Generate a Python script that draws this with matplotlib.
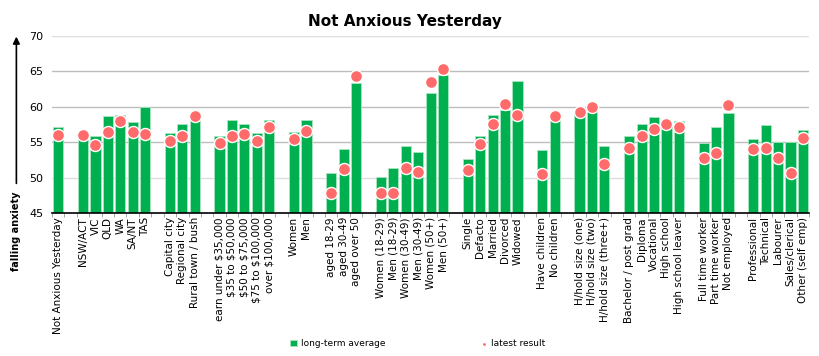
import numpy as np
import matplotlib.pyplot as plt

# blank entries are spacer slots between groups
categories = [
    "Not Anxious Yesterday", "",
    "NSW/ACT", "VIC", "QLD", "WA", "SA/NT", "TAS", "",
    "Capital city", "Regional city", "Rural town / bush", "",
    "earn under $35,000", "$35 to $50,000", "$50 to $75,000", "$75 to $100,000", "over $100,000", "",
    "Women", "Men", "",
    "aged 18-29", "aged 30-49", "aged over 50", "",
    "Women (18-29)", "Men (18-29)", "Women (30-49)", "Men (30-49)", "Women (50+)", "Men (50+)", "",
    "Single", "Defacto", "Married", "Divorced", "Widowed", "",
    "Have children", "No children", "",
    "H/hold size (one)", "H/hold size (two)", "H/hold size (three+)", "",
    "Bachelor / post grad", "Diploma", "Vocational", "High school", "High school leaver", "",
    "Full time worker", "Part time worker", "Not employed", "",
    "Professional", "Technical", "Labourer", "Sales/clerical", "Other (self emp)",
]
long_term = [
    57.2, None,
    55.9, 55.8, 58.7, 58.8, 57.8, 60.0, None,
    56.3, 57.6, 59.3, None,
    55.9, 58.1, 57.5, 56.3, 58.1, None,
    56.4, 58.1, None,
    50.6, 54.0, 63.3, None,
    50.1, 51.3, 54.4, 53.6, 61.9, 64.5, None,
    52.6, 55.9, 58.8, 59.5, 63.7, None,
    53.9, 58.5, None,
    59.1, 59.5, 54.4, None,
    55.8, 57.6, 58.5, 57.4, 58.0, None,
    54.9, 57.2, 59.1, None,
    55.5, 57.4, 55.0, 55.0, 56.7,
]
latest = [
    56.0, None,
    56.0, 54.6, 56.4, 58.0, 56.4, 56.1, None,
    55.2, 55.8, 58.7, None,
    54.9, 55.8, 56.2, 55.2, 57.1, None,
    55.5, 56.5, None,
    47.8, 51.2, 64.4, None,
    47.8, 47.8, 51.4, 50.8, 63.5, 65.3, None,
    51.0, 54.8, 57.6, 60.4, 58.8, None,
    50.5, 58.7, None,
    59.2, 60.0, 51.9, None,
    54.1, 55.9, 56.9, 57.6, 57.1, None,
    52.7, 53.5, 60.2, None,
    54.0, 54.2, 52.7, 50.6, 55.6,
]

x = np.arange(len(categories))
lt = np.array([np.nan if v is None else v for v in long_term])
lr = np.array([np.nan if v is None else v for v in latest])

fig = plt.figure(figsize=(8.19, 3.56), dpi=100)
ax = fig.add_axes([0.0635, 0.402, 0.9245, 0.497])

for y, c in [(50, "#dedede"), (55, "#bdbdbd"), (60, "#bdbdbd"), (65, "#bdbdbd"), (70, "#dedede")]:
    ax.axhline(y, color=c, lw=1, zorder=0)

ok = ~np.isnan(lt)
bars = ax.bar(x[ok], lt[ok] - 45, bottom=45, width=0.82, color="#00b050",
              edgecolor="#a8e6c0", linewidth=0.6, zorder=2, label="long-term average")
ok = ~np.isnan(lr)
dots = ax.scatter(x[ok], lr[ok], s=75, color="#ff6b6b", edgecolor="white",
                  linewidth=1.0, zorder=3, label="latest result")

ax.set_xlim(-0.5, len(categories) - 0.5)
ax.set_ylim(45, 70)
ax.set_yticks([45, 50, 55, 60, 65, 70])
ax.tick_params(axis="y", length=0, labelsize=8, pad=6)
ax.set_xticks(x)
ax.set_xticklabels(categories, rotation=90, fontsize=7.5)
for t in ax.get_xticklabels():
    t.set_parse_math(False)
ax.tick_params(axis="x", length=0, pad=3)
ax.set_xticks(np.arange(len(categories) + 1) - 0.5, minor=True)
ax.tick_params(axis="x", which="minor", length=3, color="#999999")
for s in ["top", "right", "left"]:
    ax.spines[s].set_visible(False)
ax.spines["bottom"].set_linewidth(1.2)

fig.text(0.495, 0.94, "Not Anxious Yesterday", fontsize=11, fontweight="bold",
         ha="center", va="center")

# "falling anxiety" arrow on the left
fig.text(0.02, 0.35, "falling anxiety", rotation=90, fontsize=7, fontweight="bold",
         ha="center", va="center")
ax.annotate("", xy=(0.02, 0.905), xytext=(0.02, 0.477), xycoords="figure fraction",
            textcoords="figure fraction",
            arrowprops=dict(arrowstyle="-|>", color="black", lw=1.2, mutation_scale=10))

fig.legend([bars, dots], ["long-term average", "latest result"],
           loc="lower center", bbox_to_anchor=(0.51, 0.0), ncol=2, frameon=False,
           fontsize=6.5, columnspacing=10.5, handlelength=0.8, handletextpad=0.4,
           markerscale=0.35)

fig.savefig("out.png", dpi=100)
